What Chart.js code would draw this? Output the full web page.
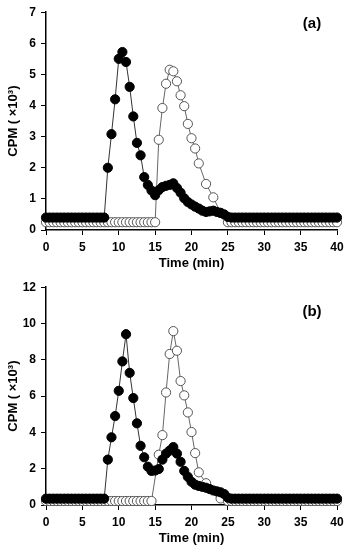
<!DOCTYPE html>
<html>
<head>
<meta charset="utf-8">
<script src="https://cdn.jsdelivr.net/npm/chart.js@4"></script>
<style>
    body { margin: 0; background: #fff; }
    .panel { width: 351px; height: 275px; }
</style>
</head>
<body>
<div class="panel"><canvas id="chartA" width="351" height="275"></canvas></div>
<div class="panel"><canvas id="chartB" width="351" height="275"></canvas></div>
<script>
// fraction times (min)
const times = [0, 0.5, 1, 1.5, 2, 2.5, 3, 3.5, 4, 4.5, 5, 5.5, 6, 6.5, 7, 7.5, 8, 8.5, 9, 9.5,
    10, 10.5, 11, 11.5, 12, 12.5, 13, 13.5, 14, 14.5, 15, 15.5, 16, 16.5, 17, 17.5, 18, 18.5, 19, 19.5,
    20, 20.5, 21, 21.5, 22, 22.5, 23, 23.5, 24, 24.5, 25, 25.5, 26, 26.5, 27, 27.5, 28, 28.5, 29, 29.5,
    30, 30.5, 31, 31.5, 32, 32.5, 33, 33.5, 34, 34.5, 35, 35.5, 36, 36.5, 37, 37.5, 38, 38.5, 39, 39.5, 40];

// panel (a), CPM x10^3
const filledA = [0.4, 0.4, 0.4, 0.4, 0.4, 0.4, 0.4, 0.4, 0.4, 0.4, 0.4, 0.4, 0.4, 0.4, 0.4, 0.4, 0.4, 2.0, 3.08, 4.2,
    5.5, 5.72, 5.4, 4.6, 3.65, 2.8, 2.4, 1.7, 1.45, 1.27, 1.12, 1.28, 1.38, 1.42, 1.45, 1.5, 1.35, 1.2, 1.02, 0.9,
    0.82, 0.75, 0.69, 0.62, 0.58, 0.6, 0.62, 0.58, 0.55, 0.5, 0.42, 0.4, 0.4, 0.4, 0.4, 0.4, 0.4, 0.4, 0.4, 0.4,
    0.4, 0.4, 0.4, 0.4, 0.4, 0.4, 0.4, 0.4, 0.4, 0.4, 0.4, 0.4, 0.4, 0.4, 0.4, 0.4, 0.4, 0.4, 0.4, 0.4, 0.4];
const openA = [0.25, 0.25, 0.25, 0.25, 0.25, 0.25, 0.25, 0.25, 0.25, 0.25, 0.25, 0.25, 0.25, 0.25, 0.25, 0.25, 0.25, 0.25, 0.25, 0.25,
    0.25, 0.25, 0.25, 0.25, 0.25, 0.25, 0.25, 0.25, 0.25, 0.25, 0.25, 2.9, 3.92, 4.7, 5.15, 5.1, 4.78, 4.33, 3.98, 3.41,
    2.95, 2.62, 2.14, null, 1.48, null, 1.05, null, 0.55, null, 0.25, 0.25, 0.25, 0.25, 0.25, 0.25, 0.25, 0.25, 0.25, 0.25,
    0.25, 0.25, 0.25, 0.25, 0.25, 0.25, 0.25, 0.25, 0.25, 0.25, 0.25, 0.25, 0.25, 0.25, 0.25, 0.25, 0.25, 0.25, 0.25, 0.25, 0.25];

// panel (b), CPM x10^3
const filledB = [0.35, 0.35, 0.35, 0.35, 0.35, 0.35, 0.35, 0.35, 0.35, 0.35, 0.35, 0.35, 0.35, 0.35, 0.35, 0.35, 0.35, 2.5, 3.73, 4.9,
    6.29, 7.91, 9.41, 7.28, 5.89, 4.5, 3.26, 2.63, 2.11, 1.88, 1.9, 1.98, 2.5, 2.83, 3.0, 3.19, 2.83, 2.38, 1.88, 1.55,
    1.28, 1.12, 1.05, 1.0, 0.95, 0.88, 0.8, 0.75, 0.7, 0.6, 0.4, 0.35, 0.35, 0.35, 0.35, 0.35, 0.35, 0.35, 0.35, 0.35,
    0.35, 0.35, 0.35, 0.35, 0.35, 0.35, 0.35, 0.35, 0.35, 0.35, 0.35, 0.35, 0.35, 0.35, 0.35, 0.35, 0.35, 0.35, 0.35, 0.35, 0.35];
const openB = [0.22, 0.22, 0.22, 0.22, 0.22, 0.22, 0.22, 0.22, 0.22, 0.22, 0.22, 0.22, 0.22, 0.22, 0.22, 0.22, 0.22, 0.22, 0.22, 0.22,
    0.22, 0.22, 0.22, 0.22, 0.22, 0.22, 0.22, 0.22, 0.22, 0.22, null, 2.77, 3.85, 6.2, 8.32, 9.58, 8.5, 6.83, 6.04, 5.1,
    4.02, 2.86, 1.8, null, 1.2, null, null, null, 0.36, null, 0.22, 0.22, 0.22, 0.22, 0.22, 0.22, 0.22, 0.22, 0.22, 0.22,
    0.22, 0.22, 0.22, 0.22, 0.22, 0.22, 0.22, 0.22, 0.22, 0.22, 0.22, 0.22, 0.22, 0.22, 0.22, 0.22, 0.22, 0.22, 0.22, 0.22, 0.22];

const xTicks = [0, 5, 10, 15, 20, 25, 30, 35, 40];
const yTicksA = [0, 1, 2, 3, 4, 5, 6, 7];
const yTicksB = [0, 2, 4, 6, 8, 10, 12];

const FONT = 'Liberation Sans, Arial, sans-serif';

function toPoints(values) {
    return times.map((t, i) => ({ x: t, y: values[i] }));
}

// draws the "(a)" / "(b)" tag
const panelTag = {
    id: 'panelTag',
    afterDraw(chart, args, opts) {
        const ctx = chart.ctx;
        ctx.save();
        ctx.font = 'bold 15px ' + FONT;
        ctx.fillStyle = '#000';
        ctx.textAlign = 'center';
        ctx.textBaseline = 'middle';
        ctx.fillText(opts.text, opts.x, opts.y);
        ctx.restore();
    }
};

function makeChart(canvasId, filled, open, yTicks, tag, tagY, padTop) {
    const ctx = document.getElementById(canvasId).getContext('2d');
    return new Chart(ctx, {
        type: 'line',
        data: {
            datasets: [{
                data: toPoints(filled),
                borderColor: '#333',
                borderWidth: 1,
                pointRadius: 4.6,
                pointBackgroundColor: '#000',
                pointBorderColor: '#000',
                pointBorderWidth: 1,
                tension: 0,
                clip: false
            }, {
                data: toPoints(open),
                borderColor: '#666',
                borderWidth: 1,
                pointRadius: 4.6,
                pointBackgroundColor: '#fff',
                pointBorderColor: '#555',
                pointBorderWidth: 1,
                tension: 0,
                spanGaps: true,
                clip: false
            }]
        },
        options: {
            responsive: false,
            animation: false,
            events: [],
            layout: { padding: { top: padTop, right: 14, left: 0, bottom: 0 } },
            plugins: {
                legend: { display: false },
                tooltip: { enabled: false },
                panelTag: { text: tag, x: 312, y: tagY }
            },
            scales: {
                x: {
                    type: 'linear',
                    min: xTicks[0],
                    max: xTicks[xTicks.length - 1],
                    afterFit(scale) { scale.height = 45; },
                    afterBuildTicks(scale) { scale.ticks = xTicks.map(v => ({ value: v })); },
                    grid: { drawOnChartArea: false, drawTicks: true, tickLength: 5, color: '#000', lineWidth: 1 },
                    border: { display: true, color: '#000', width: 1.5 },
                    ticks: { color: '#000', padding: 5, maxRotation: 0, font: { family: FONT, size: 12, weight: 'bold' } },
                    title: { display: true, text: 'Time (min)', color: '#000', padding: { top: 2, bottom: 4 }, font: { family: FONT, size: 13, weight: 'bold' } }
                },
                y: {
                    min: yTicks[0],
                    max: yTicks[yTicks.length - 1],
                    afterFit(scale) { scale.width = 46; },
                    afterBuildTicks(scale) { scale.ticks = yTicks.map(v => ({ value: v })); },
                    grid: { drawOnChartArea: false, drawTicks: true, tickLength: 5, color: '#000', lineWidth: 1 },
                    border: { display: true, color: '#000', width: 1.5 },
                    ticks: { color: '#000', padding: 5, font: { family: FONT, size: 12, weight: 'bold' } },
                    title: { display: true, text: 'CPM ( ×10³)', color: '#000', padding: { top: 6, bottom: 2 }, font: { family: FONT, size: 13, weight: 'bold' } }
                }
            }
        },
        plugins: [panelTag]
    });
}

makeChart('chartA', filledA, openA, yTicksA, '(a)', 24, 9);
makeChart('chartB', filledB, openB, yTicksB, '(b)', 37, 7);
</script>
</body>
</html>
